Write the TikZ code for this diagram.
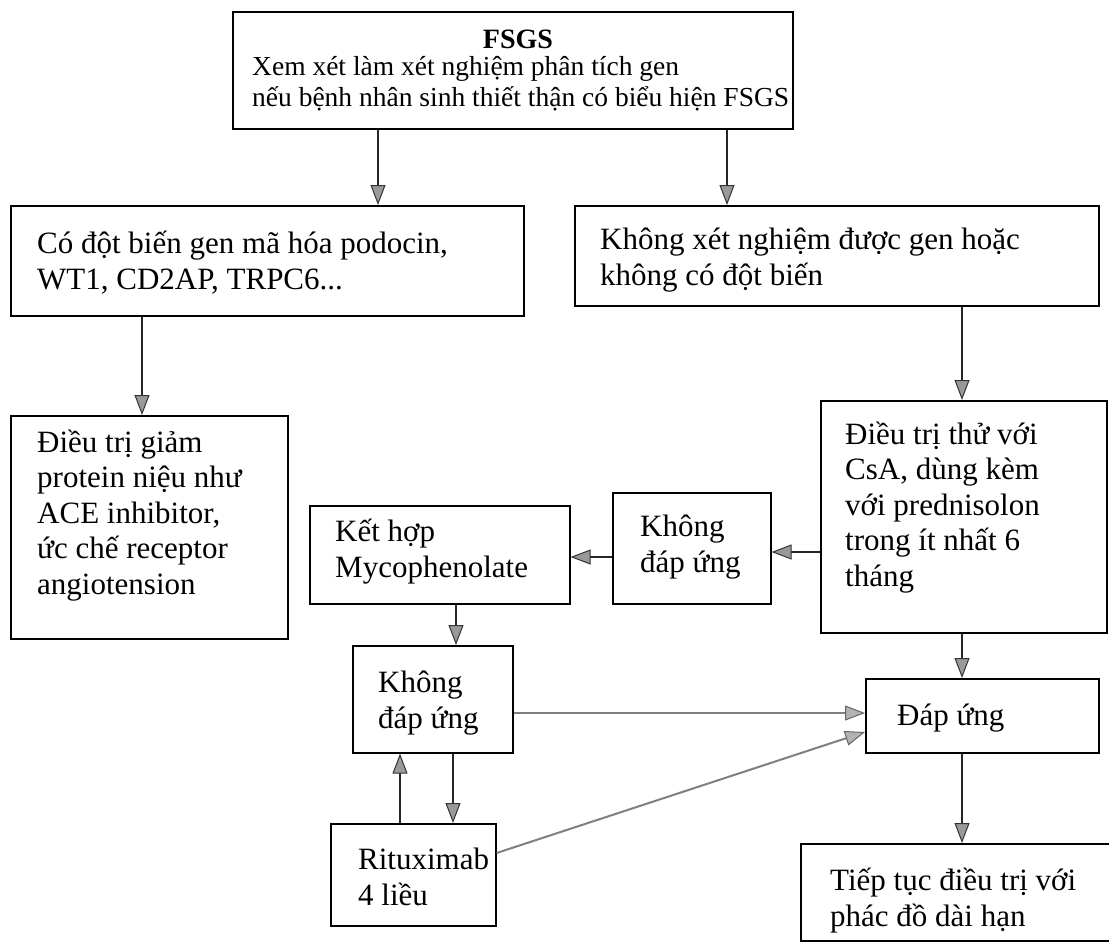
\documentclass[tikz,border=0pt]{standalone}
\usepackage{fontspec}
\setmainfont{Liberation Serif}
\usetikzlibrary{arrows.meta}
\begin{document}
\begin{tikzpicture}[x=1pt,y=-1pt,
  box/.style={draw=black, line width=1.6pt, inner sep=0pt, anchor=north west},
  txt/.style={anchor=base west, align=left, inner sep=0pt, font=\fontsize{31}{35.5}\selectfont},
  arr/.style={draw=black!85, line width=1.8pt, -{Triangle[length=20pt,width=15pt,fill=black!40,color=black!80,line width=1pt]}},
  garr/.style={draw=black!50, line width=2pt, -{Triangle[length=20pt,width=15pt,fill=black!30,color=black!60,line width=1pt]}},
]
\useasboundingbox (0,0) rectangle (1109,946);
\fill[white] (0,0) rectangle (1109,946);
% boxes
\node[box, minimum width=560pt, minimum height=117pt] (top) at (232,11) {};
\node[box, minimum width=513pt, minimum height=110pt] (left1) at (10,205) {};
\node[box, minimum width=524pt, minimum height=100pt] (right1) at (574,205) {};
\node[box, minimum width=277pt, minimum height=223pt] (bl) at (10,415) {};
\node[box, minimum width=286pt, minimum height=232pt] (csa) at (820,400) {};
\node[box, minimum width=158pt, minimum height=111pt] (kd1) at (612,492) {};
\node[box, minimum width=260pt, minimum height=98pt] (myco) at (309,505) {};
\node[box, minimum width=160pt, minimum height=107pt] (kd2) at (352,645) {};
\node[box, minimum width=233pt, minimum height=74pt] (dap) at (865,678) {};
\node[box, minimum width=165pt, minimum height=102pt] (rit) at (330,823) {};
\node[box, minimum width=320pt, minimum height=97pt] (tiep) at (800,843) {};
% texts (anchored at the baseline of the last line)
\node[txt, anchor=base, font=\fontsize{28}{30}\selectfont\bfseries] (ttop0) at (518,48) {FSGS};
\node[txt, font=\fontsize{27.5}{31}\selectfont] (ttop) at (252,106) {Xem xét làm xét nghiệm phân tích gen\\nếu bệnh nhân sinh thiết thận có biểu hiện FSGS};
\node[txt] (tleft1) at (37,289) {Có đột biến gen mã hóa podocin,\\WT1, CD2AP, TRPC6...};
\node[txt] (tright1) at (600,285) {Không xét nghiệm được gen hoặc\\không có đột biến};
\node[txt] (tbl) at (37,594) {Điều trị giảm\\protein niệu như\\ACE inhibitor,\\ức chế receptor\\angiotension};
\node[txt] (tcsa) at (845,586) {Điều trị thử với\\CsA, dùng kèm\\với prednisolon\\trong ít nhất 6\\tháng};
\node[txt] (tkd1) at (640,572) {Không\\đáp ứng};
\node[txt] (tmyco) at (335,577) {Kết hợp\\Mycophenolate};
\node[txt] (tkd2) at (378,728) {Không\\đáp ứng};
\node[txt] (tdap) at (897,725) {Đáp ứng};
\node[txt] (trit) at (358,905) {Rituximab\\4 liều};
\node[txt] (ttiep) at (830,926) {Tiếp tục điều trị với\\phác đồ dài hạn};
% helper coordinates
\coordinate (xa) at (378,0);
\coordinate (xb) at (727,0);
\coordinate (xc) at (142,0);
\coordinate (xd) at (962,0);
\coordinate (xe) at (456,0);
\coordinate (xf) at (400,0);
\coordinate (xg) at (453,0);
\coordinate (ya) at (0,552);
\coordinate (yb) at (0,557);
\coordinate (yc) at (0,713);
\coordinate (yd) at (0,853);
\coordinate (ye) at (0,732);
% connectors
\draw[arr] (top.south -| xa) -- (left1.north -| xa);
\draw[arr] (top.south -| xb) -- (right1.north -| xb);
\draw[arr] (left1.south -| xc) -- (bl.north -| xc);
\draw[arr] (right1.south -| xd) -- (csa.north -| xd);
\draw[arr] (csa.west |- ya) -- (kd1.east |- ya);
\draw[arr] (kd1.west |- yb) -- (myco.east |- yb);
\draw[arr] (myco.south -| xe) -- (kd2.north -| xe);
\draw[garr] (kd2.east |- yc) -- (dap.west |- yc);
\draw[arr] (csa.south -| xd) -- (dap.north -| xd);
\draw[arr] (rit.north -| xf) -- (kd2.south -| xf);
\draw[arr] (kd2.south -| xg) -- (rit.north -| xg);
\draw[garr] (rit.east |- yd) -- (dap.west |- ye);
\draw[arr] (dap.south -| xd) -- (tiep.north -| xd);
\end{tikzpicture}
\end{document}
